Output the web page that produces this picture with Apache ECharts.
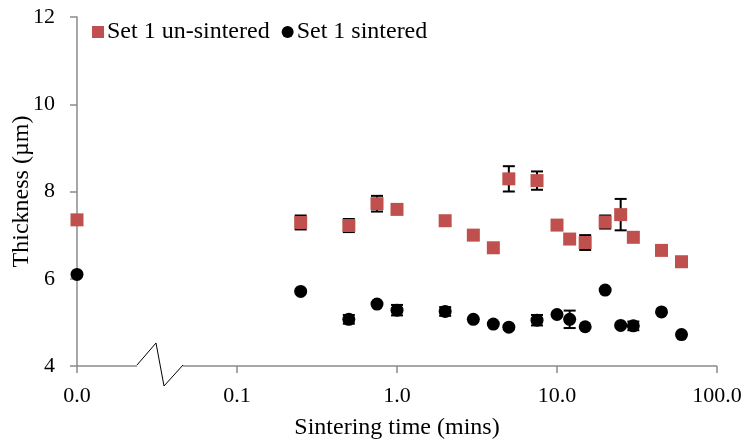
<!DOCTYPE html>
<html>
<head>
<meta charset="utf-8">
<script src="https://cdn.jsdelivr.net/npm/echarts@6/dist/echarts.min.js"></script>
<style>
  html, body { margin: 0; padding: 0; background: #fff; }
  #main { width: 745px; height: 441px; }
</style>
</head>
<body>
<div id="main"></div>
<script>
// sintering time in minutes (0.01 stands for the "0.0" point left of the axis break)
const times = [0.01, 0.25, 0.5, 0.75, 1, 2, 3, 4, 5, 7.5, 10, 12, 15, 20, 25, 30, 45, 60];
const unsintered = [7.35, 7.29, 7.22, 7.72, 7.59, 7.33, 7.00, 6.71, 8.29, 8.25, 7.23, 6.91, 6.83, 7.30, 7.47, 6.95, 6.65, 6.39];
const unsinteredErr = [0, 0.16, 0.15, 0.18, 0.10, 0, 0, 0, 0.29, 0.21, 0.10, 0, 0.17, 0.15, 0.36, 0, 0, 0];
const sintered = [6.10, 5.71, 5.07, 5.42, 5.28, 5.25, 5.07, 4.96, 4.89, 5.05, 5.18, 5.07, 4.90, 5.74, 4.93, 4.92, 5.24, 4.72];
const sinteredErr = [0, 0, 0.10, 0, 0.12, 0.10, 0, 0, 0, 0.12, 0, 0.20, 0, 0, 0, 0.10, 0, 0];
const seriesNames = ['Set 1 un-sintered', 'Set 1 sintered'];

const FONT = 'Liberation Serif';
const AXIS_GREY = '#8a8a8a';

function pairs(ys) {
  return times.map((t, i) => [t, ys[i]]);
}
function errData(ys, errs) {
  const out = [];
  times.forEach((t, i) => {
    if (errs[i] > 0) out.push([t, ys[i], errs[i]]);
  });
  return out;
}

// vertical error bar with caps
function renderErr(params, api) {
  const x = api.value(0), y = api.value(1), e = api.value(2);
  const hi = api.coord([x, y + e]);
  const lo = api.coord([x, y - e]);
  const w = 6;
  const st = { stroke: '#000', lineWidth: 2 };
  return {
    type: 'group',
    children: [
      { type: 'line', shape: { x1: hi[0], y1: hi[1], x2: lo[0], y2: lo[1] }, style: st },
      { type: 'line', shape: { x1: hi[0] - w, y1: hi[1], x2: hi[0] + w, y2: hi[1] }, style: st },
      { type: 'line', shape: { x1: lo[0] - w, y1: lo[1], x2: lo[0] + w, y2: lo[1] }, style: st }
    ]
  };
}

const chart = echarts.init(document.getElementById('main'), null, { renderer: 'canvas' });

const option = {
  backgroundColor: '#fff',
  animation: false,
  textStyle: { fontFamily: FONT, color: '#000' },
  grid: { left: 77, right: 28, top: 17, bottom: 75, outerBoundsMode: 'none', containLabel: false },
  legend: {
    data: [
      { name: seriesNames[0], icon: 'rect' },
      { name: seriesNames[1], icon: 'circle' }
    ],
    left: 92,
    top: 20,
    padding: 0,
    itemWidth: 12,
    itemHeight: 12,
    itemGap: 12,
    textStyle: { fontFamily: FONT, fontSize: 24, color: '#000', padding: [0, 0, 0, -2] }
  },
  xAxis: {
    type: 'log',
    logBase: 10,
    min: 0.01,
    max: 100,
    name: 'Sintering time (mins)',
    nameLocation: 'middle',
    nameGap: 50,
    nameMoveOverlap: false,
    nameTextStyle: { fontFamily: FONT, fontSize: 24, color: '#000' },
    axisLine: { show: false },
    axisTick: { show: true, length: 7, lineStyle: { color: AXIS_GREY, width: 1.5 } },
    minorTick: { show: false },
    splitLine: { show: false },
    axisLabel: {
      margin: 19,
      fontFamily: FONT,
      fontSize: 22,
      color: '#000',
      formatter: v => v.toFixed(1)
    }
  },
  yAxis: {
    type: 'value',
    min: 4,
    max: 12,
    interval: 2,
    name: 'Thickness (µm)',
    nameLocation: 'middle',
    nameGap: 43,
    nameMoveOverlap: false,
    nameTextStyle: { fontFamily: FONT, fontSize: 24, color: '#000' },
    axisLine: { show: true, lineStyle: { color: AXIS_GREY, width: 1.5 } },
    axisTick: { show: true, length: 7, lineStyle: { color: AXIS_GREY, width: 1.5 } },
    splitLine: { show: false },
    axisLabel: { margin: 22, fontFamily: FONT, fontSize: 22, color: '#000' }
  },
  series: [
    {
      type: 'custom',
      name: 'err1',
      renderItem: renderErr,
      encode: { x: 0, y: 1 },
      data: errData(unsintered, unsinteredErr),
      z: 1
    },
    {
      type: 'custom',
      name: 'err2',
      renderItem: renderErr,
      encode: { x: 0, y: 1 },
      data: errData(sintered, sinteredErr),
      z: 1
    },
    {
      type: 'scatter',
      name: seriesNames[0],
      symbol: 'rect',
      symbolSize: 13,
      itemStyle: { color: '#C0504D', opacity: 1 },
      data: pairs(unsintered),
      z: 3
    },
    {
      type: 'scatter',
      name: seriesNames[1],
      symbol: 'circle',
      symbolSize: 13,
      itemStyle: { color: '#000', opacity: 1 },
      data: pairs(sintered),
      z: 3
    }
  ]
};

chart.setOption(option);

// x axis line drawn by hand so it can carry the break mark
const p0 = chart.convertToPixel({ xAxisIndex: 0, yAxisIndex: 0 }, [0.01, 4]);
const p1 = chart.convertToPixel({ xAxisIndex: 0, yAxisIndex: 0 }, [100, 4]);
const brkStart = p0[0] + 60;
const brkEnd = p0[0] + 106;
const ay = p0[1];
chart.setOption({
  graphic: [
    { type: 'line', shape: { x1: p0[0], y1: ay, x2: brkStart, y2: ay }, style: { stroke: AXIS_GREY, lineWidth: 1.5 }, z: 0 },
    { type: 'line', shape: { x1: brkEnd, y1: ay, x2: p1[0], y2: ay }, style: { stroke: AXIS_GREY, lineWidth: 1.5 }, z: 0 },
    {
      type: 'polyline',
      shape: { points: [[brkStart, ay - 1], [brkStart + 19, ay - 23], [brkStart + 27, ay + 20], [brkEnd, ay - 1]] },
      style: { stroke: '#000', lineWidth: 1, fill: null },
      z: 0
    }
  ]
});
</script>
</body>
</html>
